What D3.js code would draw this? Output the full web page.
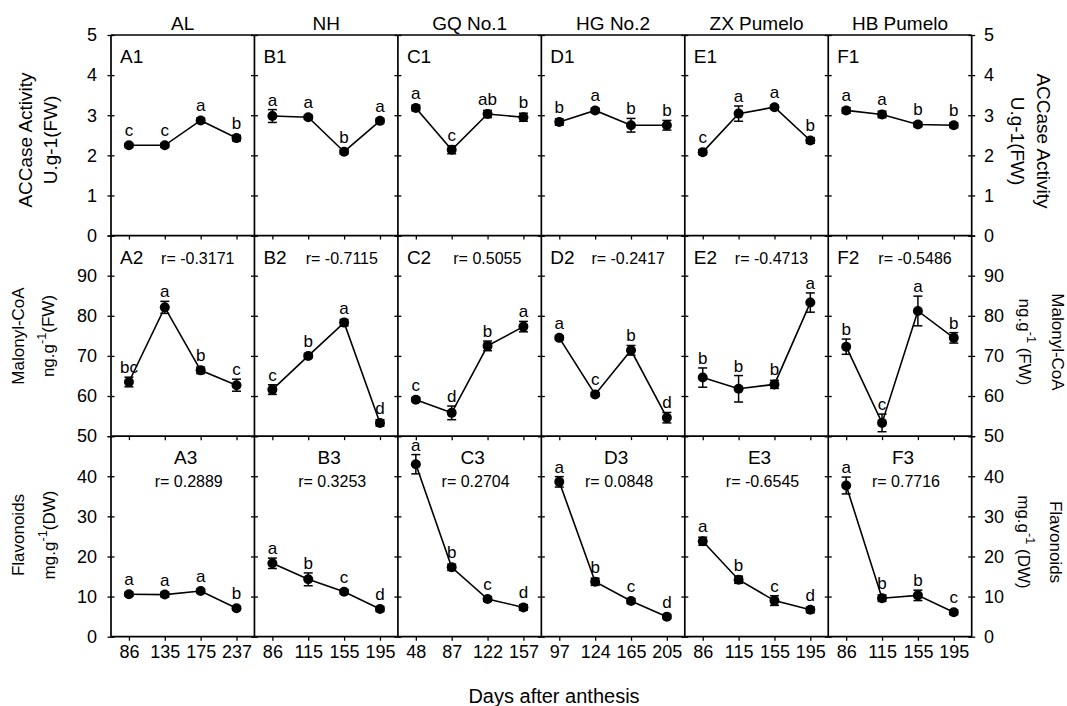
<!DOCTYPE html>
<html>
<head>
<meta charset="utf-8">
<script src="https://cdn.jsdelivr.net/npm/d3@7"></script>
<style>
  body { margin: 0; background: #fff; }
  svg text { font-family: "Liberation Sans", Arial, sans-serif; fill: #000; }
</style>
</head>
<body>
<div class="chart"></div>
<script>
// 品种与取样时间
const cultivars = ["AL", "NH", "GQ No.1", "HG No.2", "ZX Pumelo", "HB Pumelo"];
const prefixes = ["A", "B", "C", "D", "E", "F"];
const days = [
  ["86", "135", "175", "237"],
  ["86", "115", "155", "195"],
  ["48", "87", "122", "157"],
  ["97", "124", "165", "205"],
  ["86", "115", "155", "195"],
  ["86", "115", "155", "195"]
];

// ACCase activity
const accase = [
  [2.25, 2.25, 2.87, 2.43],
  [2.98, 2.95, 2.09, 2.86],
  [3.18, 2.14, 3.03, 2.95],
  [2.83, 3.12, 2.75, 2.75],
  [2.08, 3.04, 3.20, 2.37],
  [3.12, 3.02, 2.77, 2.75]
];
const accaseErr = [
  [0.05, 0.05, 0.06, 0.07],
  [0.16, 0.05, 0.05, 0.05],
  [0.07, 0.10, 0.09, 0.10],
  [0.08, 0.06, 0.17, 0.12],
  [0.06, 0.19, 0.05, 0.07],
  [0.07, 0.08, 0.06, 0.06]
];
const accaseLetters = [
  ["c", "c", "a", "b"],
  ["a", "a", "b", "a"],
  ["a", "c", "ab", "b"],
  ["b", "a", "b", "b"],
  ["c", "a", "a", "b"],
  ["a", "a", "b", "b"]
];

// Malonyl-CoA
const malonyl = [
  [63.5, 82.1, 66.4, 62.7],
  [61.6, 70.0, 78.3, 53.3],
  [59.1, 55.8, 72.5, 77.3],
  [74.5, 60.4, 71.4, 54.6],
  [64.6, 61.8, 62.9, 83.3],
  [72.3, 53.3, 81.2, 74.5]
];
const malonylErr = [
  [1.2, 1.5, 0.8, 1.5],
  [1.2, 0.5, 0.8, 0.8],
  [0.5, 1.7, 1.2, 1.3],
  [0.5, 0.5, 1.2, 1.3],
  [2.4, 3.3, 1.0, 2.4],
  [1.9, 2.2, 3.7, 1.3]
];
const malonylLetters = [
  ["bc", "a", "b", "c"],
  ["c", "b", "a", "d"],
  ["c", "d", "b", "a"],
  ["a", "c", "b", "d"],
  ["b", "b", "b", "a"],
  ["b", "c", "a", "b"]
];
const malonylR = ["-0.3171", "-0.7115", "0.5055", "-0.2417", "-0.4713", "-0.5486"];

// Flavonoids
const flavonoids = [
  [10.6, 10.5, 11.4, 7.1],
  [18.3, 14.3, 11.2, 6.9],
  [43.0, 17.3, 9.4, 7.3],
  [38.6, 13.7, 8.9, 5.0],
  [23.8, 14.2, 9.0, 6.7],
  [37.7, 9.6, 10.3, 6.1]
];
const flavonoidsErr = [
  [0.5, 0.6, 0.5, 0.5],
  [1.3, 1.6, 0.5, 0.6],
  [2.4, 0.8, 0.6, 0.7],
  [1.3, 0.9, 0.6, 0.5],
  [1.0, 0.9, 1.2, 0.7],
  [2.1, 0.8, 1.3, 0.6]
];
const flavonoidsLetters = [
  ["a", "a", "a", "b"],
  ["a", "b", "c", "d"],
  ["a", "b", "c", "d"],
  ["a", "b", "c", "d"],
  ["a", "b", "c", "d"],
  ["a", "b", "b", "c"]
];
const flavonoidsR = ["0.2889", "0.3253", "0.2704", "0.0848", "-0.6545", "0.7716"];

const yDomains = [[0, 5], [50, 100], [0, 50]];
const yTicks = [[0, 1, 2, 3, 4, 5], [50, 60, 70, 80, 90, 100], [0, 10, 20, 30, 40, 50]];
const yTickLabels = [[0, 1, 2, 3, 4, 5], [50, 60, 70, 80, 90], [0, 10, 20, 30, 40]];

// 画布
const width = 1067, height = 706;
const gLeft = 111, gRight = 971.7, gTop = 35, gBottom = 636.7;
const colW = (gRight - gLeft) / 6;
const rowH = (gBottom - gTop) / 3;

const svg = d3.select(".chart")
  .append("svg")
  .attr("width", width)
  .attr("height", height);

const rows = [
  { values: accase, err: accaseErr, letters: accaseLetters },
  { values: malonyl, err: malonylErr, letters: malonylLetters, r: malonylR },
  { values: flavonoids, err: flavonoidsErr, letters: flavonoidsLetters, r: flavonoidsR }
];

const yScales = yDomains.map(function (dom, r) {
  return d3.scaleLinear().domain(dom).range([gTop + (r + 1) * rowH, gTop + r * rowH]);
});

rows.forEach(function (row, r) {
  const y = yScales[r];

  // y ticks crossing every column border
  for (let c = 0; c <= 6; c++) {
    const bx = gLeft + c * colW;
    const ax = svg.append("g")
      .attr("transform", "translate(" + (bx - 3.5) + ",0)")
      .call(d3.axisLeft(y).tickValues(yTicks[r]).tickSize(-7).tickFormat(""));
    ax.select(".domain").remove();
    ax.selectAll("line").attr("stroke", "#000").attr("stroke-width", 1.3);
  }

  // y tick labels left and right
  svg.append("g").selectAll("text")
    .data(yTickLabels[r]).enter().append("text")
    .attr("x", 97).attr("y", function (d) { return y(d); })
    .attr("dy", "0.35em").attr("text-anchor", "end")
    .attr("font-size", 18).text(function (d) { return d; });
  svg.append("g").selectAll("text")
    .data(yTickLabels[r]).enter().append("text")
    .attr("x", 984).attr("y", function (d) { return y(d); })
    .attr("dy", "0.35em").attr("text-anchor", "start")
    .attr("font-size", 18).text(function (d) { return d; });

  cultivars.forEach(function (cv, c) {
    const x0 = gLeft + c * colW;
    const x = d3.scalePoint().domain(days[c]).range([x0, x0 + colW]).padding(0.5);
    const g = svg.append("g");

    // x ticks pointing down
    const xa = g.append("g")
      .attr("transform", "translate(0," + y.range()[0] + ")")
      .call(d3.axisBottom(x).tickSize(4).tickPadding(5));
    xa.select(".domain").remove();
    xa.selectAll("line").attr("stroke", "#000").attr("stroke-width", 1.3);
    if (r === 2) {
      xa.selectAll("text").attr("font-size", 18).attr("fill", "#000")
        .attr("font-family", "Liberation Sans, Arial, sans-serif");
    } else {
      xa.selectAll("text").remove();
    }

    const pts = days[c].map(function (d, i) {
      return { day: d, v: row.values[c][i], e: row.err[c][i], letter: row.letters[c][i] };
    });

    // line
    g.append("path")
      .datum(pts)
      .attr("d", d3.line().x(function (d) { return x(d.day); }).y(function (d) { return y(d.v); }))
      .attr("fill", "none").attr("stroke", "#000").attr("stroke-width", 1.6);

    // error bars
    const eb = g.selectAll(".eb").data(pts).enter().append("g");
    eb.append("line")
      .attr("x1", function (d) { return x(d.day); }).attr("x2", function (d) { return x(d.day); })
      .attr("y1", function (d) { return y(d.v - d.e); }).attr("y2", function (d) { return y(d.v + d.e); })
      .attr("stroke", "#000").attr("stroke-width", 1.5);
    [-1, 1].forEach(function (s) {
      eb.append("line")
        .attr("x1", function (d) { return x(d.day) - 4.5; }).attr("x2", function (d) { return x(d.day) + 4.5; })
        .attr("y1", function (d) { return y(d.v + s * d.e); }).attr("y2", function (d) { return y(d.v + s * d.e); })
        .attr("stroke", "#000").attr("stroke-width", 1.5);
    });

    g.selectAll("circle").data(pts).enter().append("circle")
      .attr("cx", function (d) { return x(d.day); })
      .attr("cy", function (d) { return y(d.v); })
      .attr("r", 5).attr("fill", "#000");

    // significance letters
    g.selectAll(".letter").data(pts).enter().append("text")
      .attr("x", function (d) { return x(d.day); })
      .attr("y", function (d) { return Math.min(y(d.v + d.e), y(d.v) - 5) - 4; })
      .attr("text-anchor", "middle").attr("font-size", 17)
      .text(function (d) { return d.letter; });

    // panel label and r
    const name = prefixes[c] + (r + 1);
    if (r < 2) {
      g.append("text").attr("x", x0 + 9).attr("y", gTop + r * rowH + 28)
        .attr("font-size", 19).text(name);
    } else {
      g.append("text").attr("x", x0 + colW / 2 + 3).attr("y", gTop + r * rowH + 28)
        .attr("text-anchor", "middle").attr("font-size", 19).text(name);
    }
    if (r === 1) {
      g.append("text").attr("x", x0 + colW - 20).attr("y", gTop + r * rowH + 28)
        .attr("text-anchor", "end").attr("font-size", 16).text("r= " + row.r[c]);
    }
    if (r === 2) {
      g.append("text").attr("x", x0 + colW / 2 + 6).attr("y", gTop + r * rowH + 51)
        .attr("text-anchor", "middle").attr("font-size", 16).text("r= " + row.r[c]);
    }
  });
});

// frame lines
for (let c = 0; c <= 6; c++) {
  svg.append("line")
    .attr("x1", gLeft + c * colW).attr("x2", gLeft + c * colW)
    .attr("y1", gTop).attr("y2", gBottom)
    .attr("stroke", "#000").attr("stroke-width", 1.7);
}
for (let r = 0; r <= 3; r++) {
  svg.append("line")
    .attr("x1", gLeft).attr("x2", gRight)
    .attr("y1", gTop + r * rowH).attr("y2", gTop + r * rowH)
    .attr("stroke", "#000").attr("stroke-width", 1.7);
}

// column titles
svg.selectAll(".ctitle").data(cultivars).enter().append("text")
  .attr("x", function (d, i) { return gLeft + (i + 0.5) * colW; })
  .attr("y", 30).attr("text-anchor", "middle").attr("font-size", 19)
  .text(function (d) { return d; });

// x axis title
svg.append("text").attr("x", 554).attr("y", 703)
  .attr("text-anchor", "middle").attr("font-size", 20).text("Days after anthesis");

// y axis titles (two lines, with superscripts)
function yTitle(cx1, cx2, cy, rot, line1, base, sup, tail, size) {
  const g = svg.append("g");
  g.append("text")
    .attr("transform", "translate(" + cx1 + "," + cy + ") rotate(" + rot + ")")
    .attr("text-anchor", "middle").attr("dominant-baseline", "central")
    .attr("font-size", size).text(line1);
  const t = g.append("text")
    .attr("transform", "translate(" + cx2 + "," + cy + ") rotate(" + rot + ")")
    .attr("text-anchor", "middle").attr("dominant-baseline", "central")
    .attr("font-size", size);
  t.append("tspan").text(base);
  if (sup) {
    t.append("tspan").attr("dy", -7).attr("font-size", size * 0.75).text(sup);
    t.append("tspan").attr("dy", 7).text(tail);
  }
}

yTitle(25, 50, 140, -90, "ACCase Activity", "U.g-1(FW)", null, null, 19);
yTitle(18, 48, 336, -90, "Malonyl-CoA", "ng.g", "-1", "(FW)", 17);
yTitle(18, 49, 535, -90, "Flavonoids", "mg.g", "-1", "(DW)", 17);

yTitle(1043, 1018, 141, 90, "ACCase Activity", "U.g-1(FW)", null, null, 19);
yTitle(1057, 1025, 342, 90, "Malonyl-CoA", "ng.g", "-1", " (FW)", 17);
yTitle(1055, 1024, 542, 90, "Flavonoids", "mg.g", "-1", " (DW)", 17);
</script>
</body>
</html>
